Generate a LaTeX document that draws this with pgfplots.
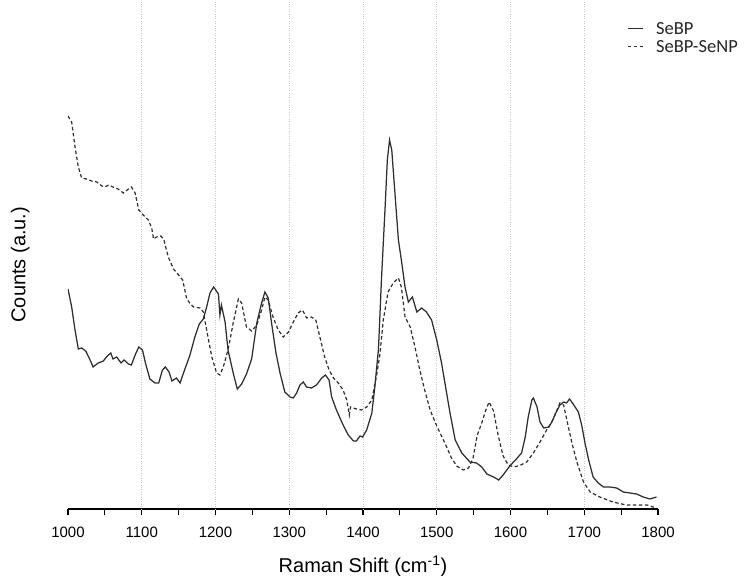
\documentclass[border=0pt]{standalone}
\usepackage{fontspec}
\setmainfont{Liberation Sans}
\newfontfamily\legfont{Carlito}
\usepackage{pgfplots}
\pgfplotsset{compat=1.18}

\definecolor{curve}{HTML}{2E2E2E}
\definecolor{gridc}{HTML}{C8C8C8}

\begin{document}
\begin{tikzpicture}
\begin{axis}[
    scale only axis,
    width=590bp, height=509bp,
    xmin=1000, xmax=1800,
    ymin=0, ymax=509,
    axis x line*=bottom,
    axis y line*=left,
    y axis line style={draw=none},
    x axis line style={line width=1.4bp, black},
    ytick=\empty,
    xtick={1000,1100,...,1800},
    minor x tick num=1,
    tick align=outside,
    major tick length=6bp,
    minor tick length=6bp,
    tick style={line width=1.2bp, black},
    extra x ticks={1100,1200,...,1700},
    extra x tick labels={},
    extra x tick style={grid=major, major tick length=0pt},
    grid style={gridc, dotted, line width=0.9bp},
    /pgf/number format/assume math mode=true,
    /pgf/number format/set thousands separator={},
    xticklabel style={font=\fontsize{15bp}{17bp}\selectfont, yshift=-9bp},
    xlabel={Raman Shift (cm\textsuperscript{-1})},
    ylabel={Counts (a.u.)},
    xlabel style={font=\fontsize{20bp}{23bp}\selectfont, at={(axis description cs:0.5,-0.112)}, anchor=center},
    ylabel style={font=\fontsize{20bp}{23bp}\selectfont, at={(axis description cs:-0.081,0.48)}, anchor=center},
    legend style={draw=none, fill=none, at={(rel axis cs:0.947,0.957)}, anchor=north west,
        font=\legfont\fontsize{18.5bp}{20bp}\selectfont, row sep=4.5bp, column sep=13bp,
        inner sep=0pt, nodes={inner sep=0pt}, text=black!85},
    legend cell align=left,
    legend image code/.code={\draw[#1] (0bp,0bp) -- (15bp,0bp);},
]
\coordinate (ll) at (rel axis cs:0,0);
\coordinate (ur) at (rel axis cs:1,1);

\addplot[curve, line width=1.25bp] coordinates {
(1000,220) (1005,202) (1009.5,179) (1014,160) (1018.5,161) (1024,158) (1030,149)
(1034,142) (1041,146) (1048,148) (1052,152) (1058,156) (1061,150) (1066,152)
(1072,146) (1076,149) (1082,145) (1086,144) (1091,154) (1096,162) (1101,159)
(1105,146) (1111,130) (1118,126) (1123,126) (1128,139) (1132,142) (1137,137)
(1141,128) (1147,131) (1152,126) (1158,139) (1165,153) (1172,172) (1178,185)
(1183.5,190) (1188,202) (1192.5,216) (1197.5,222) (1204,215) (1206,194) (1208,204)
(1213,187) (1217,159) (1224,136) (1229.5,120) (1235.5,125) (1242,135) (1249,150)
(1256,186) (1262.5,206) (1267,217) (1271.5,211) (1276,186) (1282,156) (1287.5,136)
(1294,117) (1301,112) (1305.5,111) (1310,116) (1314.5,124) (1319,127) (1323.5,122)
(1330,121) (1337,124) (1344,131) (1349,134) (1354,129) (1357.5,112) (1364,99)
(1373,84) (1380,74) (1387,68) (1391,68) (1396,73) (1399.5,72) (1405,79)
(1412,96) (1416,122) (1421,160) (1425,229) (1430,302) (1433,349) (1436,369)
(1439,359) (1443,319) (1448,269) (1452,249) (1457,222) (1461.5,207) (1467,212)
(1473,197) (1479.5,201) (1486,197) (1493,189) (1500,169) (1506.5,146) (1512,122)
(1518,96) (1525,69) (1534,56) (1545,47) (1554,46) (1561,42) (1568,35)
(1577,32) (1584,29) (1590,34) (1599,43) (1608,50) (1615,56) (1620,72)
(1624,92) (1629,109) (1631,111) (1636,102) (1640,87) (1645,81) (1652,82)
(1656,87) (1662,97) (1667,104) (1672,107) (1676,106) (1680,110) (1685,105)
(1692,97) (1696.5,84) (1701,66) (1706,49) (1712,32) (1719,26) (1726,22)
(1735,22) (1744,21) (1753,17) (1762,16) (1771,15) (1780,12) (1789,10) (1798,12)
};
\addlegendentry{SeBP}

\addplot[curve, line width=1.2bp, dash pattern=on 3.5bp off 2.5bp] coordinates {
(1000,393) (1005,387) (1009.5,362) (1014,342) (1018.5,331) (1025,330) (1032,328)
(1039,327) (1046,323) (1050,322) (1055,324) (1061,322) (1068,320) (1075,316)
(1082,320) (1086,322) (1091,316) (1096,299) (1102,294) (1109,289) (1113.5,281)
(1116,270) (1120,272) (1126,273) (1130,269) (1136,252) (1143,240) (1150,234)
(1155.5,229) (1161,210) (1165,206) (1170,202) (1179,201) (1183.5,197) (1188,179)
(1195,152) (1201.5,136) (1206,134) (1210.5,142) (1217,159) (1224,186) (1231,210)
(1235.5,206) (1242,182) (1249,178) (1256,184) (1262.5,199) (1267,212) (1271.5,209)
(1278,192) (1285,179) (1292,172) (1299,177) (1305.5,187) (1312,196) (1318,199)
(1323.5,191) (1330,192) (1336,189) (1341.5,172) (1348,152) (1354,139) (1360,131)
(1366.5,126) (1373,119) (1378,109) (1381.5,94) (1383,102) (1391,100) (1398,99)
(1405,102) (1412,109) (1418.5,134) (1423,155) (1427.5,189) (1434,217) (1441,226)
(1448,231) (1452,222) (1457,192) (1464,182) (1470.5,162) (1477,139) (1484,118)
(1491,99) (1500,83) (1511,66) (1520,51) (1527,43) (1536,39) (1543,41)
(1549,50) (1555,74) (1561,86) (1566,98) (1571,107) (1577,98) (1583.5,73)
(1590,53) (1597,44) (1605,42) (1614,44) (1622,47) (1631,56) (1640,67)
(1649,79) (1656,87) (1662,97) (1667,106) (1672,104) (1677,87) (1683,67)
(1690,47) (1699,27) (1708,17) (1721,12) (1739,7) (1757,4) (1776,4) (1785,4) (1798,1)
};
\addlegendentry{SeBP-SeNP}
\end{axis}
\pgfresetboundingbox
\path ([shift={(-68bp,-67bp)}]ll) rectangle ([shift={(88bp,0bp)}]ur);
\end{tikzpicture}
\end{document}
